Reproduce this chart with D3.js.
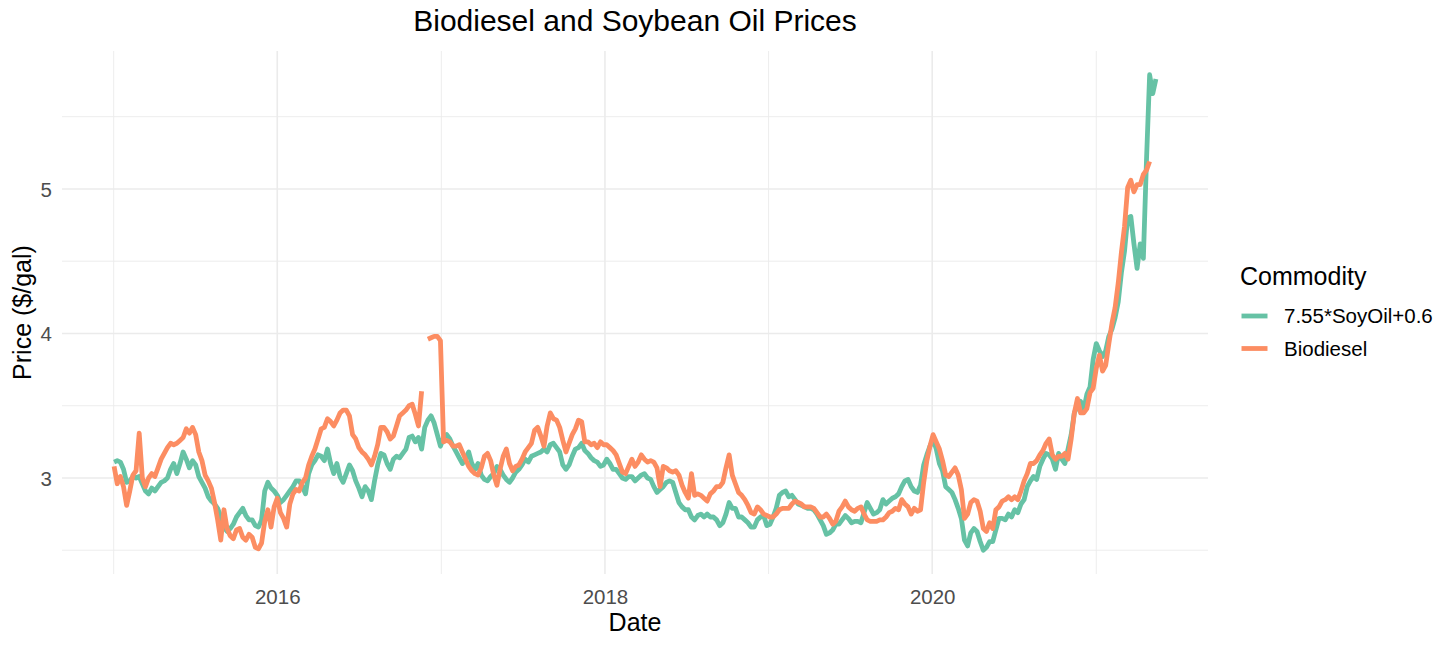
<!DOCTYPE html>
<html>
<head>
<meta charset="utf-8">
<script src="https://cdn.jsdelivr.net/npm/d3@7"></script>
<style>
  body { margin: 0; background: #fff; }
  text { font-family: "Liberation Sans", Arial, sans-serif; }
</style>
</head>
<body>
<script>
// weekly observations, first one on 2 Jan 2015
var startDate = new Date(2015, 0, 2),
    stepDays = 7;

var seriesNames = ["7.55*SoyOil+0.6", "Biodiesel"];

// 7.55 * soybean oil price + 0.6  ($/gal)
var soyValues = [
  3.11,3.12,3.11,3.06,2.97,2.98,3.01,3.00,3.01,2.96,
  2.91,2.89,2.93,2.91,2.94,2.97,2.98,3.00,3.06,3.10,
  3.03,3.10,3.18,3.13,3.07,3.12,3.09,3.01,2.97,2.93,
  2.87,2.84,2.82,2.79,2.73,2.66,2.63,2.65,2.68,2.73,
  2.76,2.79,2.74,2.71,2.71,2.67,2.66,2.71,2.91,2.97,
  2.93,2.91,2.88,2.83,2.85,2.88,2.91,2.94,2.98,2.98,
  2.94,2.89,3.03,3.09,3.12,3.16,3.15,3.12,3.20,3.10,
  3.03,3.10,3.01,2.97,3.03,3.09,3.05,2.98,2.93,2.87,
  2.94,2.91,2.85,2.98,3.09,3.17,3.16,3.10,3.06,3.13,
  3.15,3.14,3.17,3.20,3.28,3.29,3.25,3.28,3.20,3.35,
  3.40,3.43,3.38,3.30,3.22,3.28,3.30,3.27,3.22,3.18,
  3.14,3.10,3.13,3.18,3.10,3.06,3.10,3.02,2.99,2.98,
  3.01,3.03,3.08,3.06,3.02,2.99,2.97,3.00,3.04,3.06,
  3.09,3.13,3.11,3.15,3.16,3.17,3.18,3.20,3.18,3.23,
  3.24,3.21,3.18,3.09,3.06,3.09,3.15,3.20,3.21,3.24,
  3.19,3.17,3.14,3.12,3.11,3.08,3.09,3.13,3.10,3.06,
  3.06,3.03,3.00,2.99,3.01,3.01,2.98,3.00,3.02,3.03,
  3.00,2.99,2.94,2.90,2.92,2.94,2.97,2.98,2.97,2.90,
  2.83,2.80,2.78,2.78,2.73,2.71,2.74,2.75,2.73,2.75,
  2.73,2.73,2.71,2.67,2.69,2.75,2.83,2.79,2.79,2.73,
  2.73,2.71,2.69,2.66,2.66,2.71,2.73,2.74,2.67,2.68,
  2.73,2.79,2.88,2.90,2.91,2.87,2.88,2.85,2.82,2.81,
  2.80,2.79,2.79,2.78,2.75,2.71,2.67,2.61,2.62,2.64,
  2.68,2.68,2.71,2.74,2.72,2.69,2.70,2.70,2.69,2.76,
  2.83,2.79,2.75,2.76,2.78,2.85,2.82,2.84,2.86,2.87,
  2.89,2.94,2.98,2.99,2.94,2.91,2.90,2.95,3.09,3.16,
  3.22,3.27,3.20,3.10,3.05,2.94,2.92,2.90,2.85,2.79,
  2.72,2.57,2.53,2.62,2.65,2.63,2.56,2.50,2.52,2.56,
  2.56,2.64,2.72,2.72,2.71,2.75,2.73,2.78,2.76,2.82,
  2.85,2.94,2.98,3.01,2.99,3.08,3.13,3.17,3.16,3.13,
  3.06,3.17,3.13,3.10,3.20,3.30,3.45,3.50,3.53,3.47,
  3.58,3.63,3.82,3.93,3.88,3.84,3.88,3.98,4.03,4.11,
  4.22,4.42,4.57,4.80,4.81,4.62,4.45,4.62,4.52,5.20,
  5.79,5.66,5.76
];

// biodiesel price ($/gal), null = no quote
var biodieselValues = [
  3.08,2.96,3.01,2.94,2.81,2.91,3.02,3.05,3.31,3.00,
  2.94,3.00,3.03,3.01,3.07,3.13,3.17,3.21,3.24,3.23,
  3.24,3.26,3.28,3.34,3.31,3.35,3.30,3.18,3.12,3.02,
  2.98,2.93,2.83,2.71,2.57,2.78,2.65,2.60,2.58,2.64,
  2.65,2.59,2.57,2.61,2.59,2.52,2.51,2.55,2.70,2.78,
  2.66,2.80,2.86,2.76,2.72,2.66,2.82,2.89,2.92,2.91,
  2.97,3.00,3.09,3.15,3.20,3.27,3.34,3.35,3.41,3.39,
  3.36,3.40,3.45,3.47,3.47,3.43,3.30,3.27,3.21,3.18,
  3.16,3.13,3.09,3.15,3.23,3.35,3.35,3.32,3.27,3.29,
  3.36,3.43,3.45,3.47,3.50,3.51,3.44,3.36,3.60,null,
  3.96,3.97,3.98,3.98,3.95,3.25,3.26,3.25,3.22,3.22,
  3.23,3.18,3.13,3.08,3.05,3.03,3.02,3.07,3.15,3.17,
  3.12,3.02,2.95,3.06,3.15,3.20,3.10,3.05,3.08,3.09,
  3.13,3.18,3.21,3.24,3.33,3.35,3.29,3.22,3.36,3.45,
  3.41,3.40,3.35,3.26,3.18,3.24,3.30,3.34,3.40,3.39,
  3.25,3.25,3.23,3.24,3.21,3.25,3.23,3.23,3.21,3.19,
  3.16,3.10,3.04,3.03,3.08,3.13,3.08,3.11,3.16,3.13,
  3.11,3.12,3.11,3.07,2.94,3.08,3.07,3.05,3.04,3.05,
  3.02,2.95,2.90,2.86,3.03,2.88,2.89,2.88,2.86,2.84,
  2.89,2.91,2.94,2.94,2.97,3.07,3.16,3.02,2.96,2.90,
  2.88,2.85,2.81,2.76,2.75,2.80,2.78,2.75,2.74,2.73,
  2.73,2.75,2.78,2.79,2.79,2.79,2.82,2.84,2.83,2.82,
  2.80,2.80,2.80,2.79,2.76,2.73,2.73,2.75,2.72,2.68,
  2.70,2.77,2.80,2.84,2.80,2.78,2.77,2.79,2.80,2.75,
  2.71,2.70,2.70,2.70,2.71,2.71,2.73,2.76,2.77,2.79,
  2.78,2.85,2.82,2.80,2.75,2.79,2.77,2.78,2.97,3.12,
  3.22,3.30,3.25,3.20,3.12,3.02,3.01,3.04,3.07,3.02,
  2.92,2.72,2.75,2.83,2.85,2.84,2.77,2.65,2.63,2.69,
  2.65,2.78,2.80,2.84,2.85,2.87,2.85,2.87,2.85,2.91,
  2.98,3.03,3.10,3.10,3.12,3.16,3.19,3.24,3.27,3.16,
  3.13,3.15,3.15,3.17,3.13,3.27,3.45,3.55,3.45,3.45,
  3.48,3.59,3.62,3.76,3.85,3.74,3.78,3.93,4.07,4.18,
  4.35,4.56,4.74,5.01,5.06,4.98,5.03,5.03,5.10,5.13,
  5.19
];

var xMajorYears = [2016, 2018, 2020],
    xMinorYears = [2015, 2017, 2019, 2021],
    yMajorTicks = [3, 4, 5],
    yMinorTicks = [2.5, 3.5, 4.5, 5.5];

var width = 1456,
    height = 647;

var panel = {left: 62, right: 1208, top: 51, bottom: 574};

function toSeries(values) {
    return values.map(function(v, i) {
        return {date: d3.timeDay.offset(startDate, i * stepDays), value: v};
    });
}

var series = [
    {name: seriesNames[0], points: toSeries(soyValues)},
    {name: seriesNames[1], points: toSeries(biodieselValues)}
];

var svg = d3.select("body")
    .append("svg")
    .attr("width", width)
    .attr("height", height)
    .style("background", "#fff");

// ggplot-like 5% expansion on both axes
var allPoints = series[0].points.concat(series[1].points).filter(function(d){ return d.value != null; });
var dExt = d3.extent(allPoints, function(d){ return d.date; });
var dPad = (dExt[1] - dExt[0]) * 0.05;
var vExt = d3.extent(allPoints, function(d){ return d.value; });
var vPad = (vExt[1] - vExt[0]) * 0.05;

var x = d3.scaleTime()
    .domain([new Date(+dExt[0] - dPad), new Date(+dExt[1] + dPad)])
    .range([panel.left, panel.right]);

var y = d3.scaleLinear()
    .domain([vExt[0] - vPad, vExt[1] + vPad])
    .range([panel.bottom, panel.top]);

var color = d3.scaleOrdinal()
    .domain(seriesNames)
    .range(d3.schemeSet2);

//grid lines
var grid = svg.append("g").attr("class", "grid");

grid.selectAll(".yMinor")
    .data(yMinorTicks)
    .enter().append("line")
    .attr("x1", panel.left).attr("x2", panel.right)
    .attr("y1", function(d){ return y(d); })
    .attr("y2", function(d){ return y(d); })
    .attr("stroke", "#ebebeb").attr("stroke-width", 0.9);

grid.selectAll(".xMinor")
    .data(xMinorYears)
    .enter().append("line")
    .attr("y1", panel.top).attr("y2", panel.bottom)
    .attr("x1", function(d){ return x(new Date(d, 0, 1)); })
    .attr("x2", function(d){ return x(new Date(d, 0, 1)); })
    .attr("stroke", "#ebebeb").attr("stroke-width", 0.9);

grid.selectAll(".yMajor")
    .data(yMajorTicks)
    .enter().append("line")
    .attr("x1", panel.left).attr("x2", panel.right)
    .attr("y1", function(d){ return y(d); })
    .attr("y2", function(d){ return y(d); })
    .attr("stroke", "#ebebeb").attr("stroke-width", 1.6);

grid.selectAll(".xMajor")
    .data(xMajorYears)
    .enter().append("line")
    .attr("y1", panel.top).attr("y2", panel.bottom)
    .attr("x1", function(d){ return x(new Date(d, 0, 1)); })
    .attr("x2", function(d){ return x(new Date(d, 0, 1)); })
    .attr("stroke", "#ebebeb").attr("stroke-width", 1.6);

//lines
var line = d3.line()
    .defined(function(d){ return d.value != null; })
    .x(function(d){ return x(d.date); })
    .y(function(d){ return y(d.value); });

svg.selectAll(".series")
    .data(series)
    .enter()
    .append("path")
    .attr("class", "series")
    .attr("fill", "none")
    .attr("stroke", function(d){ return color(d.name); })
    .attr("stroke-width", 4.8)
    .attr("stroke-linejoin", "round")
    .attr("d", function(d){ return line(d.points); });

//axes
var xAxis = d3.axisBottom(x)
    .tickValues(xMajorYears.map(function(yr){ return new Date(yr, 0, 1); }))
    .tickFormat(d3.timeFormat("%Y"))
    .tickSize(0)
    .tickPadding(15);

var gx = svg.append("g")
    .attr("transform", "translate(0," + panel.bottom + ")")
    .call(xAxis);

var yAxis = d3.axisLeft(y)
    .tickValues(yMajorTicks)
    .tickFormat(d3.format("d"))
    .tickSize(0)
    .tickPadding(10);

var gy = svg.append("g")
    .attr("transform", "translate(" + panel.left + ",0)")
    .call(yAxis);

[gx, gy].forEach(function(g){
    g.select(".domain").remove();
    g.selectAll("text")
        .attr("font-family", "Liberation Sans, Arial, sans-serif")
        .attr("font-size", 20.5)
        .attr("fill", "#4d4d4d");
});
gy.selectAll("text").attr("dy", "0.36em");

//titles
svg.append("text")
    .attr("x", (panel.left + panel.right) / 2)
    .attr("y", 31)
    .attr("text-anchor", "middle")
    .attr("font-size", 30)
    .attr("fill", "#000")
    .text("Biodiesel and Soybean Oil Prices");

svg.append("text")
    .attr("x", (panel.left + panel.right) / 2)
    .attr("y", 631)
    .attr("text-anchor", "middle")
    .attr("font-size", 25)
    .attr("fill", "#000")
    .text("Date");

svg.append("text")
    .attr("transform", "translate(31," + (panel.top + panel.bottom) / 2 + ") rotate(-90)")
    .attr("text-anchor", "middle")
    .attr("font-size", 25)
    .attr("fill", "#000")
    .text("Price ($/gal)");

//legend
var legend = svg.append("g").attr("transform", "translate(1240,0)");

legend.append("text")
    .attr("x", 0)
    .attr("y", 285)
    .attr("font-size", 25)
    .attr("fill", "#000")
    .text("Commodity");

var items = legend.selectAll(".item")
    .data(seriesNames)
    .enter().append("g")
    .attr("class", "item")
    .attr("transform", function(d, i){ return "translate(0," + (316 + i * 32.5) + ")"; });

items.append("line")
    .attr("x1", 1.5).attr("x2", 27.5)
    .attr("stroke", function(d){ return color(d); })
    .attr("stroke-width", 4.8);

items.append("text")
    .attr("x", 44)
    .attr("y", 0)
    .attr("dy", "0.36em")
    .attr("font-size", 20.5)
    .attr("fill", "#000")
    .text(function(d){ return d; });
</script>
</body>
</html>
